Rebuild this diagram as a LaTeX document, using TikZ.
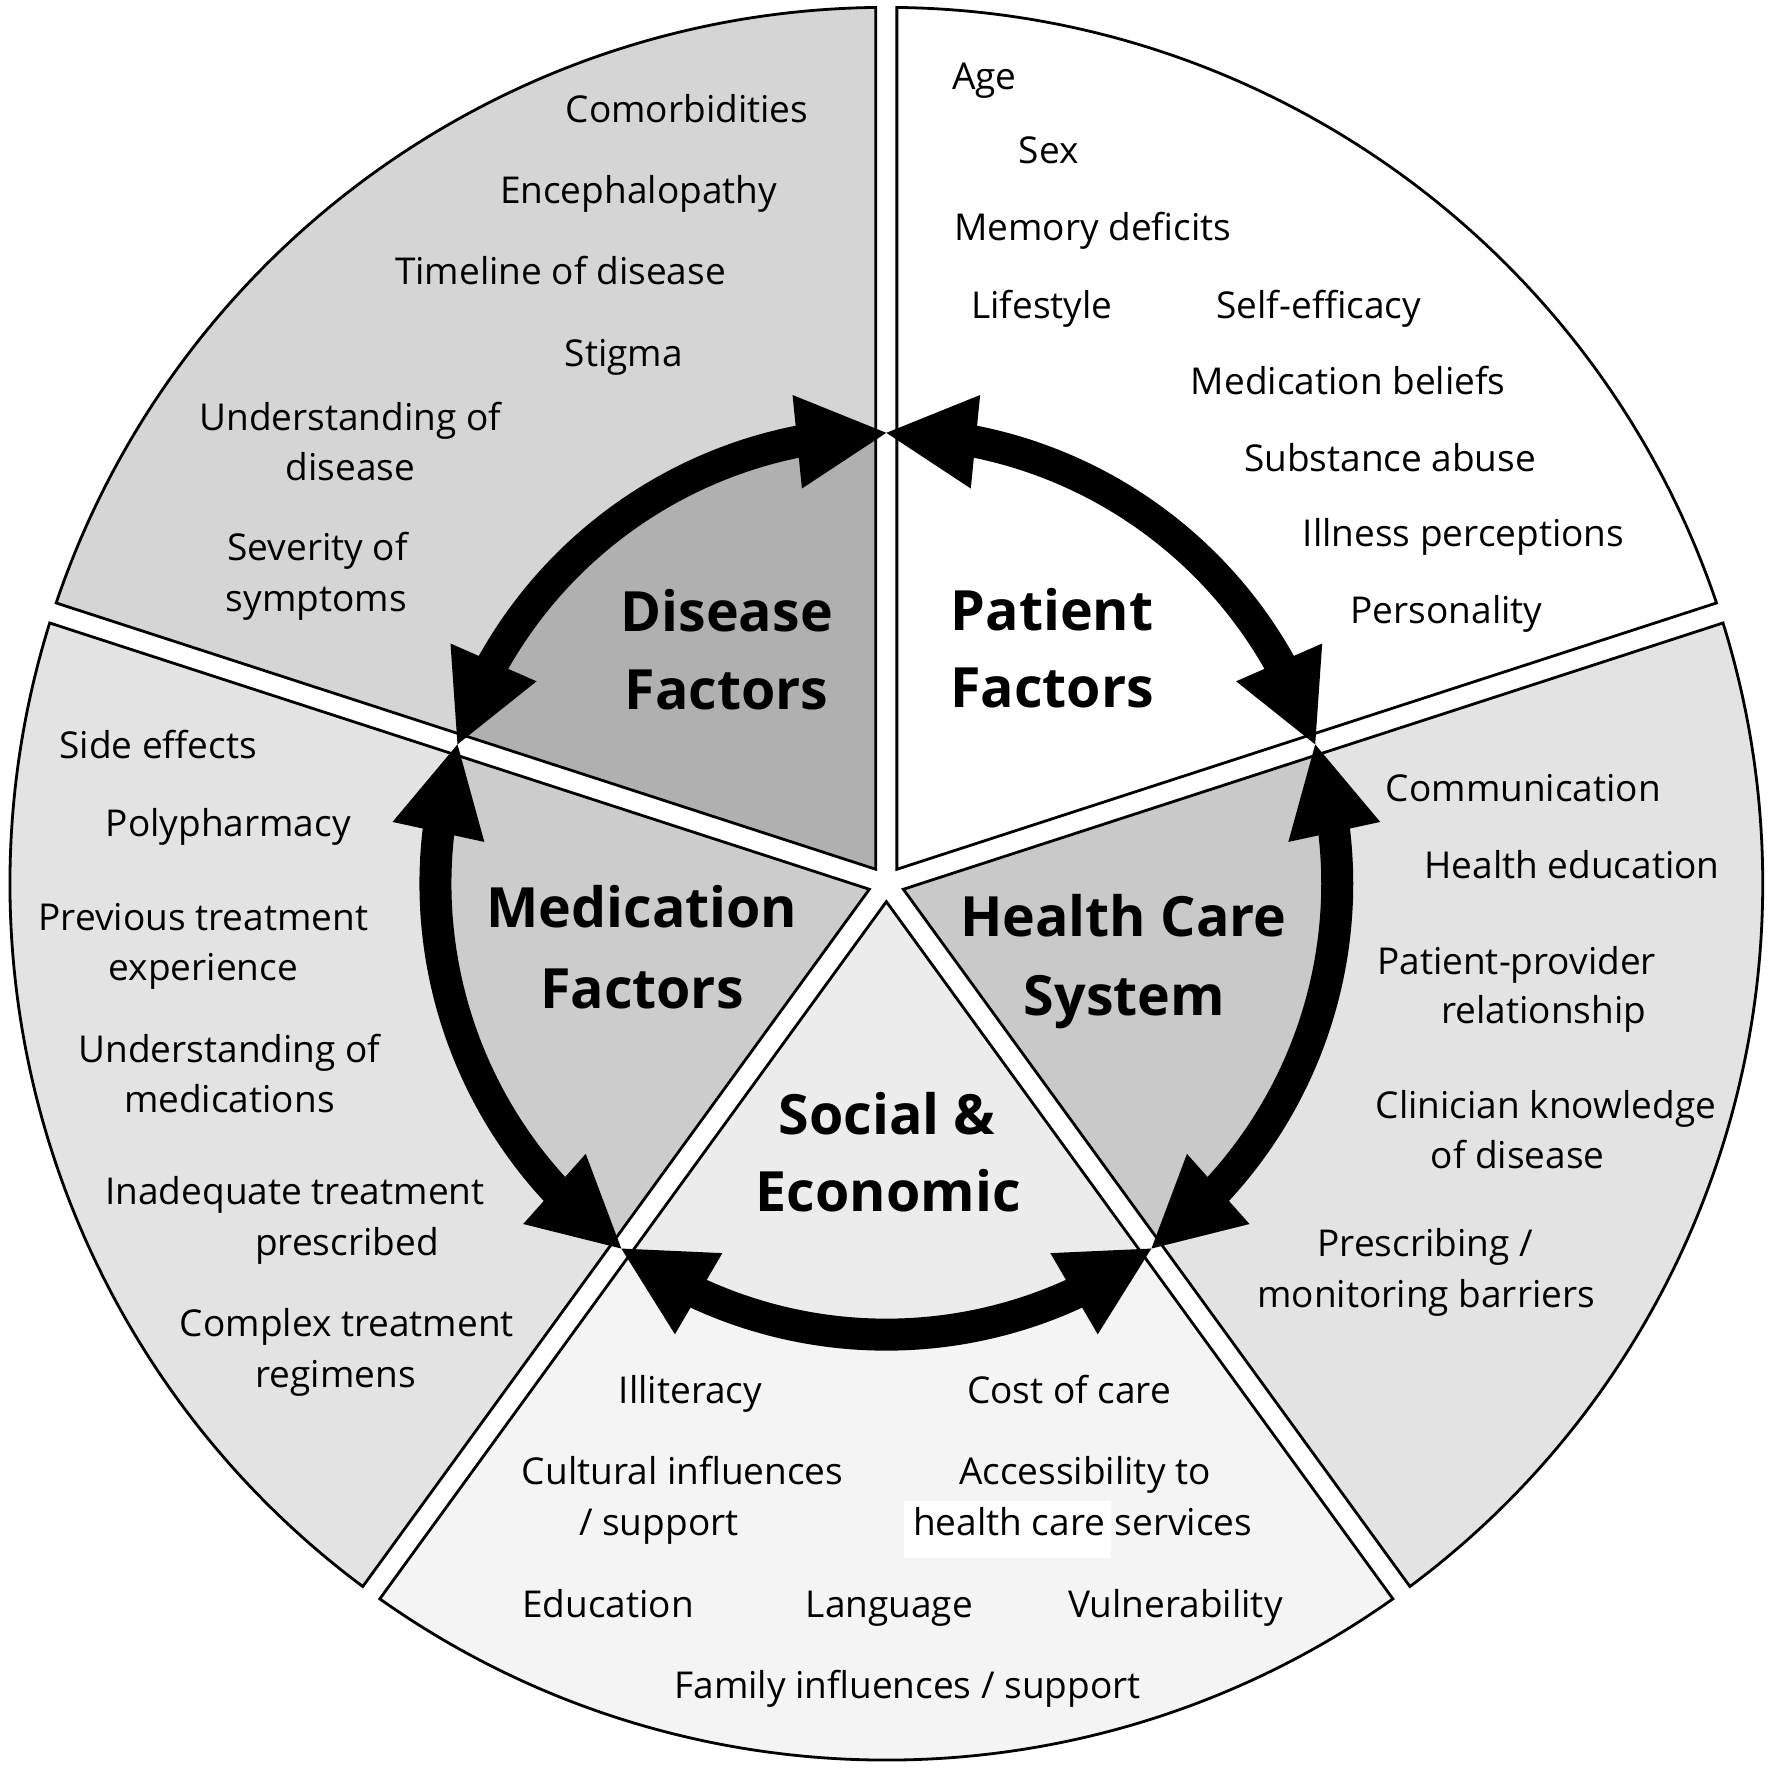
\documentclass[tikz,border=0pt]{standalone}
\usepackage{fontspec}
\setmainfont{Open Sans}
\usetikzlibrary{calc}
\definecolor{disOut}{gray}{0.835}
\definecolor{disIn}{gray}{0.69}
\definecolor{medOut}{gray}{0.89}
\definecolor{medIn}{gray}{0.80}
\definecolor{hcOut}{gray}{0.89}
\definecolor{hcIn}{gray}{0.79}
\definecolor{socOut}{gray}{0.955}
\definecolor{socIn}{gray}{0.925}
\newcommand\Rout{775.5}
\newcommand\Rin{399}
\newcommand\gapH{9.3}
\newcommand\arrAl{11.4}
\newcommand\drawsector[3]{%
  \pgfmathsetmacro\sA{#1}%
  \pgfmathsetmacro\sB{#1+72}%
  \pgfmathsetmacro\sM{#1+36}%
  \pgfmathsetmacro\sD{asin(\gapH/\Rout)}%
  \pgfmathsetmacro\sT{\gapH/sin(36)}%
  \pgfmathsetmacro\sAA{\sA+\sD}%
  \pgfmathsetmacro\sBB{\sB-\sD}%
  \fill[#2] ($(C)+(\sM:\sT)$) -- ($(C)+(\sAA:\Rout)$) arc[start angle=\sAA, end angle=\sBB, radius=\Rout] -- cycle;
  \begin{scope}
    \clip ($(C)+(\sM:\sT)$) -- ($(C)+(\sAA:\Rout)$) arc[start angle=\sAA, end angle=\sBB, radius=\Rout] -- cycle;
    \fill[#3] (C) circle[radius=\Rin];
  \end{scope}
  \draw[secline] ($(C)+(\sM:\sT)$) -- ($(C)+(\sAA:\Rout)$) arc[start angle=\sAA, end angle=\sBB, radius=\Rout] -- cycle;
}
\newcommand\drawarrow[1]{%
  \pgfmathsetmacro\aA{#1}%
  \pgfmathsetmacro\aB{#1+72}%
  \pgfmathsetmacro\aS{#1+0.6*\arrAl}%
  \pgfmathsetmacro\aE{#1+72-0.6*\arrAl}%
  \pgfmathsetmacro\aBA{#1+\arrAl}%
  \pgfmathsetmacro\aBB{#1+72-\arrAl}%
  \draw[line width=32pt] ($(C)+(\aS:\Rin)$) arc[start angle=\aS, end angle=\aE, radius=\Rin];
  \coordinate (tA) at ($(C)+(\aA:\Rin)$);
  \coordinate (bA) at ($(C)+(\aBA:\Rin)$);
  \fill ($(bA)!47pt!90:(tA)$) -- (tA) -- ($(bA)!47pt!-90:(tA)$) -- cycle;
  \coordinate (tB) at ($(C)+(\aB:\Rin)$);
  \coordinate (bB) at ($(C)+(\aBB:\Rin)$);
  \fill ($(bB)!47pt!90:(tB)$) -- (tB) -- ($(bB)!47pt!-90:(tB)$) -- cycle;
}
\begin{document}
\begin{tikzpicture}[x=1.130102pt,y=-1.130102pt,
  tx/.style={font=\fontsize{37}{42}\selectfont, inner sep=0pt, anchor=base},
  ttl/.style={font=\bfseries\fontsize{55.5}{60}\selectfont, inner sep=0pt, anchor=base},
  secline/.style={draw=black, line width=2.8pt, line join=miter}]
\useasboundingbox (0,0) rectangle (1568,1565.35);
\fill[white] (0,0) rectangle (1568,1565.35);
\coordinate (C) at (784.3,782);
% sectors: Patient, Health Care, Social, Medication, Disease
\drawsector{-90}{white}{white}
\drawsector{-18}{hcOut}{hcIn}
\drawsector{54}{socOut}{socIn}
\drawsector{126}{medOut}{medIn}
\drawsector{198}{disOut}{disIn}
% white patch behind "health care"
\fill[white] (800,1328) rectangle (983,1379);
% arrows
\drawarrow{-90}
\drawarrow{-18}
\drawarrow{54}
\drawarrow{126}
\drawarrow{198}
% Disease factors
\node[tx] (d1) at (608,108) {Comorbidities};
\node[tx] (d2) at (565,180) {Encephalopathy};
\node[tx] (d3) at (496,252) {Timeline of disease};
\node[tx] (d4) at (552,324) {Stigma};
\node[tx] (d5a) at (310,381) {Understanding of};
\node[tx] (d5b) at (310,425) {disease};
\node[tx] (d6a) at (281,496) {Severity of};
\node[tx] (d6b) at (280,541) {symptoms};
\node[ttl] (dt1) at (643,559) {Disease};
\node[ttl] (dt2) at (643,628) {Factors};
% Patient factors
\node[tx] (p1) at (871,79) {Age};
\node[tx] (p2) at (928,145) {Sex};
\node[tx] (p3) at (967,213) {Memory deficits};
\node[tx] (p4) at (922,282) {Lifestyle};
\node[tx] (p5) at (1167,282) {Self-efficacy};
\node[tx] (p6) at (1193,349) {Medication beliefs};
\node[tx] (p7) at (1230,417) {Substance abuse};
\node[tx] (p8) at (1295,484) {Illness perceptions};
\node[tx] (p9) at (1280,552) {Personality};
\node[ttl] (pt1) at (931,558) {Patient};
\node[ttl] (pt2) at (931,626) {Factors};
% Health care system
\node[tx] (h1) at (1348,709) {Communication};
\node[tx] (h2) at (1391,777) {Health education};
\node[tx] (h3a) at (1342,862) {Patient-provider};
\node[tx] (h3b) at (1366,906) {relationship};
\node[tx] (h4a) at (1368,990) {Clinician knowledge};
\node[tx] (h4b) at (1343,1034) {of disease};
\node[tx] (h5a) at (1261,1112) {Prescribing /};
\node[tx] (h5b) at (1262,1157) {monitoring barriers};
\node[ttl] (ht1) at (994,829) {Health Care};
\node[ttl] (ht2) at (995,899) {System};
% Social & economic
\node[ttl] (st1) at (785,1004) {Social \&};
\node[ttl] (st2) at (786,1072) {Economic};
\node[tx] (s1) at (611,1242) {Illiteracy};
\node[tx] (s2) at (946,1242) {Cost of care};
\node[tx] (s3a) at (604,1314) {Cultural influences};
\node[tx] (s3b) at (583,1359) {/ support};
\node[tx] (s4a) at (960,1314) {Accessibility to};
\node[tx] (s4b) at (958,1359) {health care services};
\node[tx] (s5) at (538,1431) {Education};
\node[tx] (s6) at (787,1431) {Language};
\node[tx] (s7) at (1040,1431) {Vulnerability};
\node[tx] (s8) at (803,1503) {Family influences / support};
% Medication factors
\node[tx] (m1) at (140,671) {Side effects};
\node[tx] (m2) at (202,740) {Polypharmacy};
\node[tx] (m3a) at (180,823) {Previous treatment};
\node[tx] (m3b) at (180,868) {experience};
\node[tx] (m4a) at (203,940) {Understanding of};
\node[tx] (m4b) at (203,984) {medications};
\node[tx] (m5a) at (261,1066) {Inadequate treatment};
\node[tx] (m5b) at (307,1111) {prescribed};
\node[tx] (m6a) at (307,1183) {Complex treatment};
\node[tx] (m6b) at (297,1228) {regimens};
\node[ttl] (mt1) at (568,821) {Medication};
\node[ttl] (mt2) at (568,892) {Factors};
\end{tikzpicture}
\end{document}
